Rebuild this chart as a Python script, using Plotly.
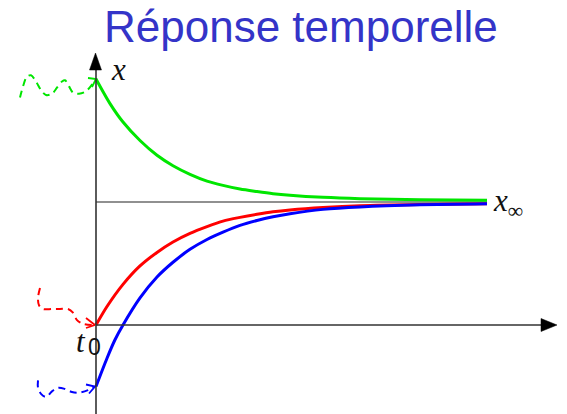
import plotly.graph_objects as go

# ---------------- data (time in arbitrary units, response in units of x_inf) ----------------
t_green = [0, 0.14, 0.27, 0.44, 0.61, 0.77, 0.94, 1.11, 1.27, 1.44, 1.61, 1.77, 1.94, 2.27, 2.64, 3.24, 3.91]
x_green = [2.00, 1.80, 1.65, 1.50, 1.38, 1.295, 1.225, 1.17, 1.135, 1.105, 1.085, 1.068, 1.055, 1.038, 1.027, 1.018, 1.015]

t_red = [0, 0.11, 0.27, 0.44, 0.61, 0.77, 0.94, 1.11, 1.27, 1.44, 1.61, 1.77, 1.94, 2.27, 2.64, 3.24, 3.91]
x_red = [0, 0.15, 0.33, 0.48, 0.59, 0.675, 0.745, 0.80, 0.845, 0.875, 0.90, 0.92, 0.935, 0.955, 0.97, 0.98, 0.985]

t_blue = [0, 0.11, 0.19, 0.27, 0.44, 0.61, 0.77, 0.94, 1.11, 1.27, 1.44, 1.61, 1.77, 1.94, 2.27, 2.64, 3.24, 3.91]
x_blue = [-0.50, -0.27, -0.12, 0, 0.22, 0.39, 0.51, 0.615, 0.695, 0.755, 0.81, 0.85, 0.88, 0.905, 0.94, 0.96, 0.977, 0.985]

x_inf = 1.0
t_end = 3.91

# hand-drawn "history" before t0 (dashed wiggles)
t_green_hist = [-0.76, -0.73, -0.69, -0.65, -0.60, -0.55, -0.50, -0.44, -0.39, -0.34, -0.31, -0.27, -0.23, -0.17, -0.10, 0.0]
x_green_hist = [1.85, 1.94, 2.02, 2.03, 1.98, 1.91, 1.87, 1.88, 1.93, 1.98, 1.99, 1.94, 1.89, 1.88, 1.90, 2.00]

t_red_hist = [-0.56, -0.58, -0.57, -0.53, -0.44, -0.36, -0.28, -0.23, -0.19, -0.13, -0.01]
x_red_hist = [0.30, 0.22, 0.16, 0.13, 0.13, 0.13, 0.13, 0.10, 0.04, 0.01, 0.0]

t_blue_hist = [-0.58, -0.58, -0.55, -0.50, -0.44, -0.38, -0.31, -0.24, -0.17, -0.08, -0.01]
x_blue_hist = [-0.45, -0.51, -0.56, -0.585, -0.54, -0.51, -0.52, -0.545, -0.55, -0.53, -0.50]

# ---------------- geometry helpers ----------------
W, H = 567, 414
T_PER_PX = 1 / 100.0
X_PER_PX = 1 / 123.0
OX, OY = 96, 325  # origin pixel


def tx(px):
    return (px - OX) * T_PER_PX


def xy(py):
    return (OY - py) * X_PER_PX


GREEN = "#00e600"
RED = "#ff0000"
BLUE = "#0000ff"
AX = "#333333"
SERIF = "Liberation Serif, Times New Roman, serif"

fig = go.Figure()

# dashed histories
for tt, xx, c in [(t_green_hist, x_green_hist, GREEN), (t_red_hist, x_red_hist, RED), (t_blue_hist, x_blue_hist, BLUE)]:
    fig.add_trace(go.Scatter(x=tt, y=xx, mode="lines",
                             line=dict(color=c, width=2, dash="7px,5px", shape="spline", smoothing=0.9),
                             hoverinfo="skip", showlegend=False))

# little open arrow heads at the end of the dashed histories
for (tt, xx, c, up, dn) in [(t_green_hist, x_green_hist, GREEN, (-8, 1), (-4, -8)),
                            (t_red_hist, x_red_hist, RED, (-9, 7), (-9, -3)),
                            (t_blue_hist, x_blue_hist, BLUE, (-9, 2), (-6, -7))]:
    tip_t, tip_x = tt[-1], xx[-1]
    fig.add_trace(go.Scatter(
        x=[tip_t + up[0] * T_PER_PX, tip_t, tip_t + dn[0] * T_PER_PX],
        y=[tip_x + up[1] * X_PER_PX, tip_x, tip_x + dn[1] * X_PER_PX],
        mode="lines", line=dict(color=c, width=1.8), hoverinfo="skip", showlegend=False))

# responses
for tt, xx, c in [(t_red, x_red, RED), (t_blue, x_blue, BLUE), (t_green, x_green, GREEN)]:
    fig.add_trace(go.Scatter(x=tt, y=xx, mode="lines", line=dict(color=c, width=3, shape="spline", smoothing=0.8),
                             hoverinfo="skip", showlegend=False))

shapes = [
    # x_inf asymptote
    dict(type="line", x0=0, x1=t_end, y0=x_inf, y1=x_inf, line=dict(color="#222222", width=1.2), layer="below"),
    # vertical axis
    dict(type="line", x0=0, x1=0, y0=xy(416), y1=xy(66), line=dict(color=AX, width=1.6)),
    # horizontal axis
    dict(type="line", x0=tx(96), x1=tx(544), y0=0, y1=0, line=dict(color=AX, width=1.6)),
    # arrow heads
    dict(type="path", path=f"M {tx(95.5)} {xy(53)} L {tx(89.5)} {xy(70)} L {tx(101.5)} {xy(70)} Z",
         fillcolor="black", line=dict(color="black", width=0.5)),
    dict(type="path", path=f"M {tx(557)} {xy(325)} L {tx(541)} {xy(318.5)} L {tx(541)} {xy(331.5)} Z",
         fillcolor="black", line=dict(color="black", width=0.5)),
]

annotations = [
    dict(x=301 / W, y=1 - 27 / H, xref="paper", yref="paper", text="Réponse temporelle", showarrow=False,
         font=dict(family="Liberation Sans, Arial", size=44, color="#3434c8"), xanchor="center", yanchor="middle"),
    dict(x=tx(109), y=xy(69), text="<i>x</i>", showarrow=False, xanchor="left", yanchor="middle",
         font=dict(family=SERIF, size=31, color="#111111")),
    dict(x=tx(491), y=xy(203), text="<i>x</i><sub>∞</sub>", showarrow=False, xanchor="left", yanchor="middle",
         font=dict(family=SERIF, size=31, color="#111111")),
    dict(x=tx(88), y=xy(341), text="<i>t</i>", showarrow=False, xanchor="right", yanchor="middle",
         font=dict(family=SERIF, size=31, color="#111111")),
    dict(x=tx(86), y=xy(347), text="0", showarrow=False, xanchor="left", yanchor="middle",
         font=dict(family="Liberation Sans, Arial", size=23, color="#111111")),
]

fig.update_layout(
    width=W, height=H,
    margin=dict(l=0, r=0, t=0, b=0),
    paper_bgcolor="white", plot_bgcolor="white",
    xaxis=dict(range=[tx(0), tx(W)], visible=False, fixedrange=True),
    yaxis=dict(range=[xy(H), xy(0)], visible=False, fixedrange=True),
    shapes=shapes, annotations=annotations, showlegend=False,
)

fig.write_html("out.html", config={"displayModeBar": False},
               post_script="document.body.style.margin='0px';document.body.style.overflow='hidden';")
